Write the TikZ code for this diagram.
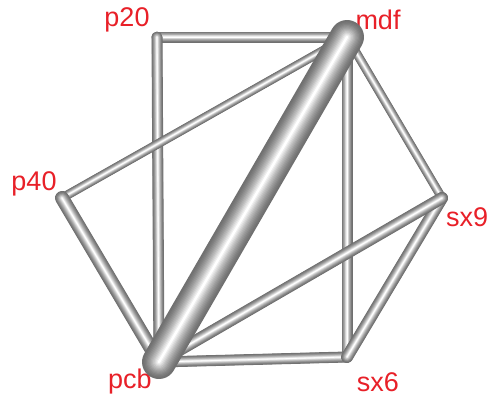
\documentclass[tikz,border=0pt]{standalone}
\usepackage{fontspec}
\setmainfont{Liberation Sans}
\usepackage{xcolor}
\usetikzlibrary{positioning}

\definecolor{labred}{RGB}{232,32,40}
\definecolor{tubegray}{RGB}{112,112,112}

% shaded tube between two named nodes: \tube{from}{to}{width}
\newcommand{\tube}[3]{%
  \foreach \k in {0,...,13}{
    \pgfmathsetmacro{\w}{#3*(1-\k/14)}
    \pgfmathtruncatemacro{\c}{100*(\k/13)^1.4}
    \draw[line width=\w pt, line cap=round, line join=round, color=white!\c!tubegray] (#1.center) -- (#2.center);
  }}

\begin{document}
\begin{tikzpicture}[x=1pt,y=-1pt]
    \tikzset{
      pt/.style={inner sep=0pt, minimum size=0pt},
      lbl/.style={text=labred, font=\fontsize{27}{32}\selectfont, inner sep=0pt}
    }
    \useasboundingbox (0,0) rectangle (489,399);

    % Vertices
    \node[pt] (p20) at (157,37) {};
    \node[pt] (mdf) at (347,37) {};
    \node[pt] (p40) at (62,198) {};
    \node[pt] (sx9) at (442,198) {};
    \node[pt] (pcb) at (159,362) {};
    \node[pt] (sx6) at (347,357) {};

    % Labels
    \node[lbl] (p20-l) at (127,20) {p20};
    \node[lbl] (mdf-l) at (378,20) {mdf};
    \node[lbl] (p40-l) at (34,184) {p40};
    \node[lbl] (sx9-l) at (467,217) {sx9};
    \node[lbl] (pcb-l) at (130,382) {pcb};
    \node[lbl] (sx6-l) at (378,382) {sx6};

    % Edges
    \tube{p20}{mdf}{11}
    \tube{p20}{pcb}{11}
    \tube{mdf}{sx6}{11}
    \tube{pcb}{sx6}{11}
    \tube{mdf}{p40}{9}
    \tube{mdf}{sx9}{9}
    \tube{sx9}{sx6}{12}
    \tube{sx9}{pcb}{12}
    \tube{p40}{pcb}{14}
    \tube{mdf}{pcb}{34}
\end{tikzpicture}
\end{document}
